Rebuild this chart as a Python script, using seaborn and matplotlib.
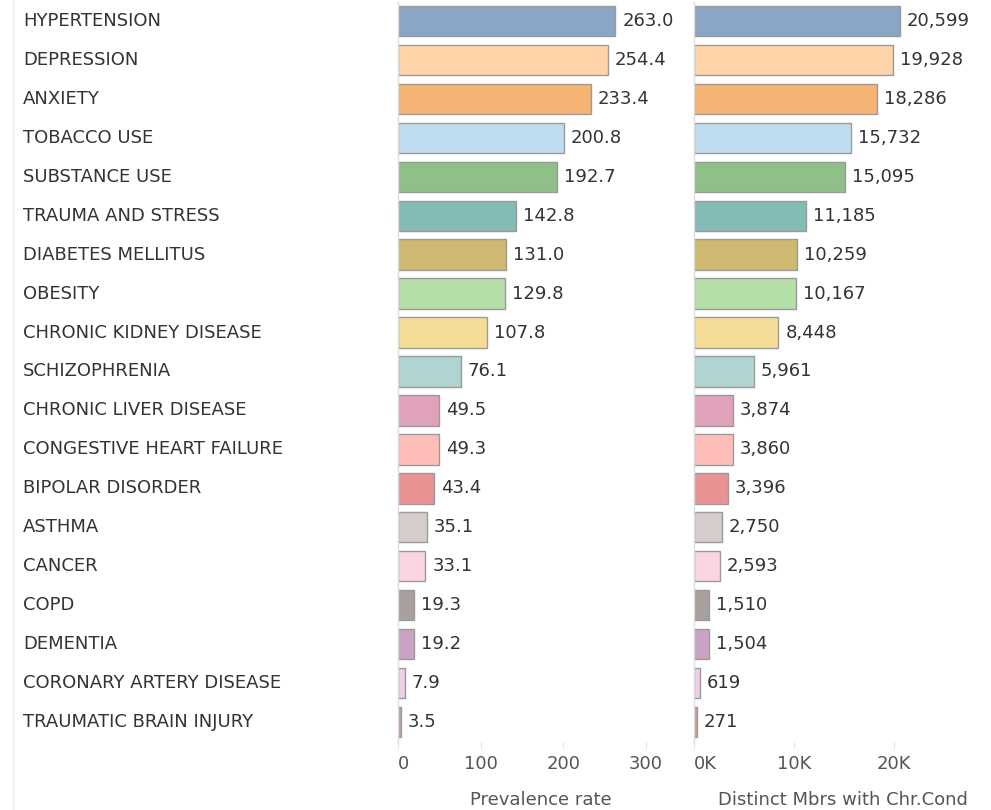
import matplotlib
matplotlib.use("Agg")
import matplotlib.pyplot as plt
from matplotlib.lines import Line2D
from matplotlib.ticker import FixedLocator, FuncFormatter
import matplotlib.transforms as mtransforms
import pandas as pd
import seaborn as sns

conditions = [
    "HYPERTENSION", "DEPRESSION", "ANXIETY", "TOBACCO USE", "SUBSTANCE USE",
    "TRAUMA AND STRESS", "DIABETES MELLITUS", "OBESITY", "CHRONIC KIDNEY DISEASE",
    "SCHIZOPHRENIA", "CHRONIC LIVER DISEASE", "CONGESTIVE HEART FAILURE",
    "BIPOLAR DISORDER", "ASTHMA", "CANCER", "COPD", "DEMENTIA",
    "CORONARY ARTERY DISEASE", "TRAUMATIC BRAIN INJURY",
]
prevalence_rate = [263.0, 254.4, 233.4, 200.8, 192.7, 142.8, 131.0, 129.8, 107.8,
                   76.1, 49.5, 49.3, 43.4, 35.1, 33.1, 19.3, 19.2, 7.9, 3.5]
distinct_members = [20599, 19928, 18286, 15732, 15095, 11185, 10259, 10167, 8448,
                    5961, 3874, 3860, 3396, 2750, 2593, 1510, 1504, 619, 271]
condition_colors = [
    "#8AA6C6", "#FED4A8", "#F5B473", "#C0DDF0", "#8FC088", "#84BBB6", "#CEB872",
    "#B4E0A8", "#F5DD98", "#B0D4D1", "#E0A2BA", "#FFBDBA", "#E99293", "#D5CDCB",
    "#FBD5E4", "#A7A09D", "#C9A2C4", "#EDCFE6", "#C7A294",
]
rate_ticks = [0, 100, 200, 300]
member_ticks = [0, 10000, 20000]

sns.set_style("white")
plt.rcParams["font.family"] = ["DejaVu Sans"]

df = pd.DataFrame({
    "condition": conditions,
    "rate": prevalence_rate,
    "members": distinct_members,
})

W, H = 991, 810
fig = plt.figure(figsize=(W / 100, H / 100), dpi=100)
fig.patch.set_facecolor("white")

ax_bottom = (H - 741.5) / H
ax_height = 740 / H
ax_rate = fig.add_axes([398 / W, ax_bottom, 285 / W, ax_height])
ax_mem = fig.add_axes([694 / W, ax_bottom, 297 / W, ax_height])

FS = 13
text_dark = "#333333"
text_mid = "#555555"

panels = [
    (ax_rate, "rate", (0, 345), rate_ticks, lambda v, p: f"{v:.0f}", "{:.1f}", "Prevalence rate"),
    (ax_mem, "members", (0, 29700), member_ticks, lambda v, p: f"{v / 1000:.0f}K", "{:,.0f}",
     "Distinct Mbrs with Chr.Cond"),
]

for ax, col, xlim, ticks, tickfmt, valfmt, title in panels:
    sns.barplot(data=df, y="condition", x=col, hue="condition", palette=condition_colors,
                order=conditions, hue_order=conditions, legend=False, width=0.78,
                saturation=1, edgecolor="#9a9a9a", linewidth=1.0, ax=ax)
    ax.set_xlim(*xlim)
    ax.xaxis.set_major_locator(FixedLocator(ticks))
    ax.xaxis.set_major_formatter(FuncFormatter(tickfmt))
    ax.tick_params(axis="x", which="major", bottom=True, length=4.5, width=0.8,
                   color="#e3e3e3", pad=5.5, labelsize=FS, labelcolor=text_mid)
    ax.tick_params(axis="y", left=False, labelleft=False)
    ax.set_ylabel("")
    ax.set_xlabel(title, fontsize=FS, color=text_mid, labelpad=13)
    for side in ("top", "right", "bottom"):
        ax.spines[side].set_visible(False)
    ax.spines["left"].set_color("#dcdcdc")
    ax.spines["left"].set_linewidth(1.0)
    ax.set_facecolor("white")
    for cont in ax.containers:
        ax.bar_label(cont, fmt=valfmt, padding=5, fontsize=FS, color=text_dark)

# the leftmost tick label of each pane sits just inside the pane edge
for ax in (ax_rate, ax_mem):
    ax.get_xticklabels()[0].set_horizontalalignment("left")

# category names down the left side
label_tr = mtransforms.blended_transform_factory(fig.transFigure, ax_rate.transData)
for i, name in enumerate(conditions):
    ax_rate.text(23 / W, i, name, transform=label_tr, ha="left", va="center",
                 fontsize=FS, color=text_dark, clip_on=False)

fig.add_artist(Line2D([12.5 / W, 12.5 / W], [0, 1], color="#ececec", lw=1.0))

fig.savefig("out.png", dpi=100, facecolor="white")
